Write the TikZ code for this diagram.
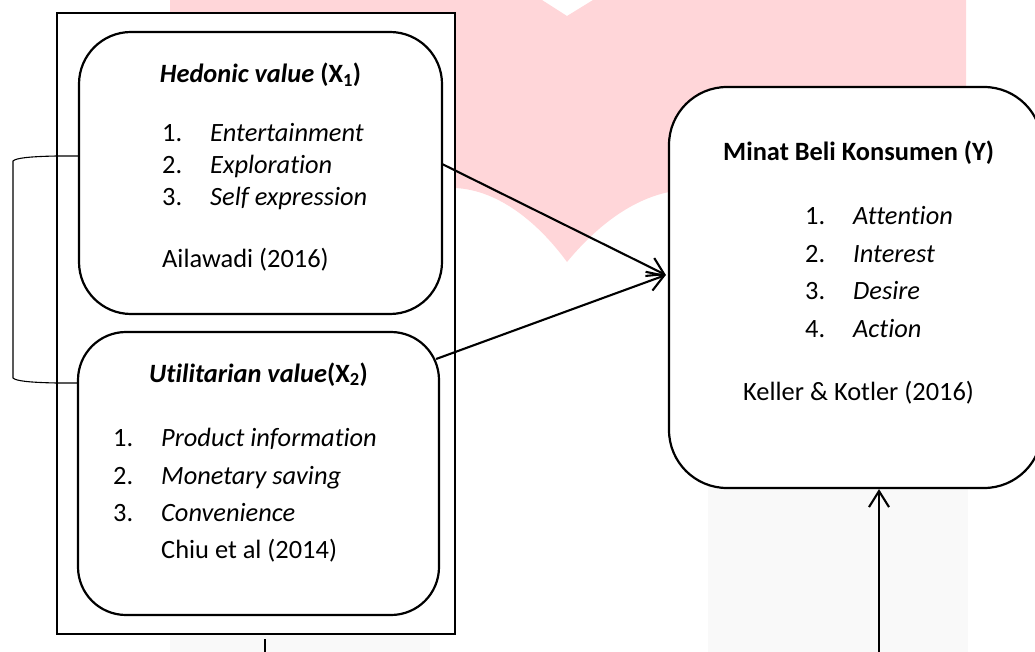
\documentclass[tikz,border=0pt]{standalone}
\usepackage{fontspec}
\setmainfont{Carlito}[Ligatures={NoCommon,NoContextual}]
\usetikzlibrary{arrows.meta,calc}
\definecolor{wmpink}{RGB}{255,214,217}
\definecolor{wmgray}{RGB}{249,249,249}
\begin{document}
\begin{tikzpicture}[x=1pt,y=-1pt,
  font=\fontsize{26.4}{31}\selectfont,
  box/.style={draw,line width=2.2pt,fill=white,inner sep=0pt},
  lbl/.style={anchor=base west,inner sep=0pt},
  ttl/.style={anchor=base,inner sep=0pt},
  arr/.style={line width=2.1pt,-{Straight Barb[length=16pt,width=20pt]}},
  thinline/.style={line width=1.1pt}]
\useasboundingbox (0,0) rectangle (1035,652);
% watermark
\fill[wmpink] (170,0) -- (542,0) -- (567,16) -- (593,0) -- (966,0) -- (966,130) -- (690,185) -- (669,192)
  .. controls (630,200) and (595,228) .. (567,262)
  .. controls (540,225) and (500,190) .. (455,188) -- (170,188) -- cycle;
\fill[wmgray] (170,600) rectangle (430,652);
\fill[wmgray] (708,400) rectangle (968,652);
% frames
\node[box,minimum width=398pt,minimum height=621pt] (outer) at (256,323.5) {};
\node[box,rounded corners=52pt,minimum width=363pt,minimum height=282pt] (hed) at (260.5,173) {};
\node[box,rounded corners=48pt,minimum width=361pt,minimum height=283pt] (utl) at (258.5,473.5) {};
\node[box,rounded corners=58pt,minimum width=373pt,minimum height=401pt] (ybox) at (855.5,287.5) {};
% hedonic texts
\node[ttl] (hedT) at (260.5,83) {\bfseries\itshape Hedonic value \upshape(X\textsubscript{1})};
\node[lbl] (h1n) at (162,142) {1.};
\node[lbl] (h1) at (210,142) {\itshape Entertainment};
\node[lbl] (h2n) at (162,174) {2.};
\node[lbl] (h2) at (210,174) {\itshape Exploration};
\node[lbl] (h3n) at (162,206) {3.};
\node[lbl] (h3) at (210,206) {\itshape Self expression};
\node[lbl] (hc) at (162,267) {Ailawadi (2016)};
% utilitarian texts
\node[ttl] (utlT) at (258.5,382) {\bfseries\itshape Utilitarian value\upshape(X\textsubscript{2})};
\node[lbl] (u1n) at (113,446) {1.};
\node[lbl] (u1) at (161,446) {\itshape Product information};
\node[lbl] (u2n) at (113,484) {2.};
\node[lbl] (u2) at (161,484) {\itshape Monetary saving};
\node[lbl] (u3n) at (113,521) {3.};
\node[lbl] (u3) at (161,521) {\itshape Convenience};
\node[lbl] (uc) at (161,558) {Chiu et al (2014)};
% Y texts
\node[lbl] (yT) at (723,161) {\bfseries Minat Beli Konsumen (Y)};
\node[lbl] (y1n) at (805,225) {1.};
\node[lbl] (y1) at (853,225) {\itshape Attention};
\node[lbl] (y2n) at (805,262) {2.};
\node[lbl] (y2) at (853,262) {\itshape Interest};
\node[lbl] (y3n) at (805,299) {3.};
\node[lbl] (y3) at (853,299) {\itshape Desire};
\node[lbl] (y4n) at (805,337) {4.};
\node[lbl] (y4) at (853,337) {\itshape Action};
\node[lbl] (yc) at (743,400) {Keller \& Kotler (2016)};
% connectors
\draw[arr] ($(hed.east)+(-1,-9)$) -- ($(ybox.west)+(-2,-12.5)$);
\draw[arr] ($(utl.east)+(-4,-114.5)$) -- ($(ybox.west)+(-2,-12.5)$);
\coordinate (vbot) at (879,652);
\draw[arr] (vbot) -- (vbot |- ybox.south);
\coordinate (lb) at (265,652);
\draw[thinline] (lb) -- ($(outer.south -| lb)+(0,4)$);
\coordinate (bt1) at (57,156);
\coordinate (bt2) at (13,161);
\coordinate (bb2) at (13,378);
\coordinate (bb1) at (57,383);
\draw[thinline] ($(hed.west)+(0,-17)$) -- (bt1) .. controls (30,156.5) and (16,158) .. (bt2)
  -- (bb2) .. controls (16,381) and (30,382.5) .. (bb1) -- ($(utl.west)+(0,-90.5)$);
\end{tikzpicture}
\end{document}
